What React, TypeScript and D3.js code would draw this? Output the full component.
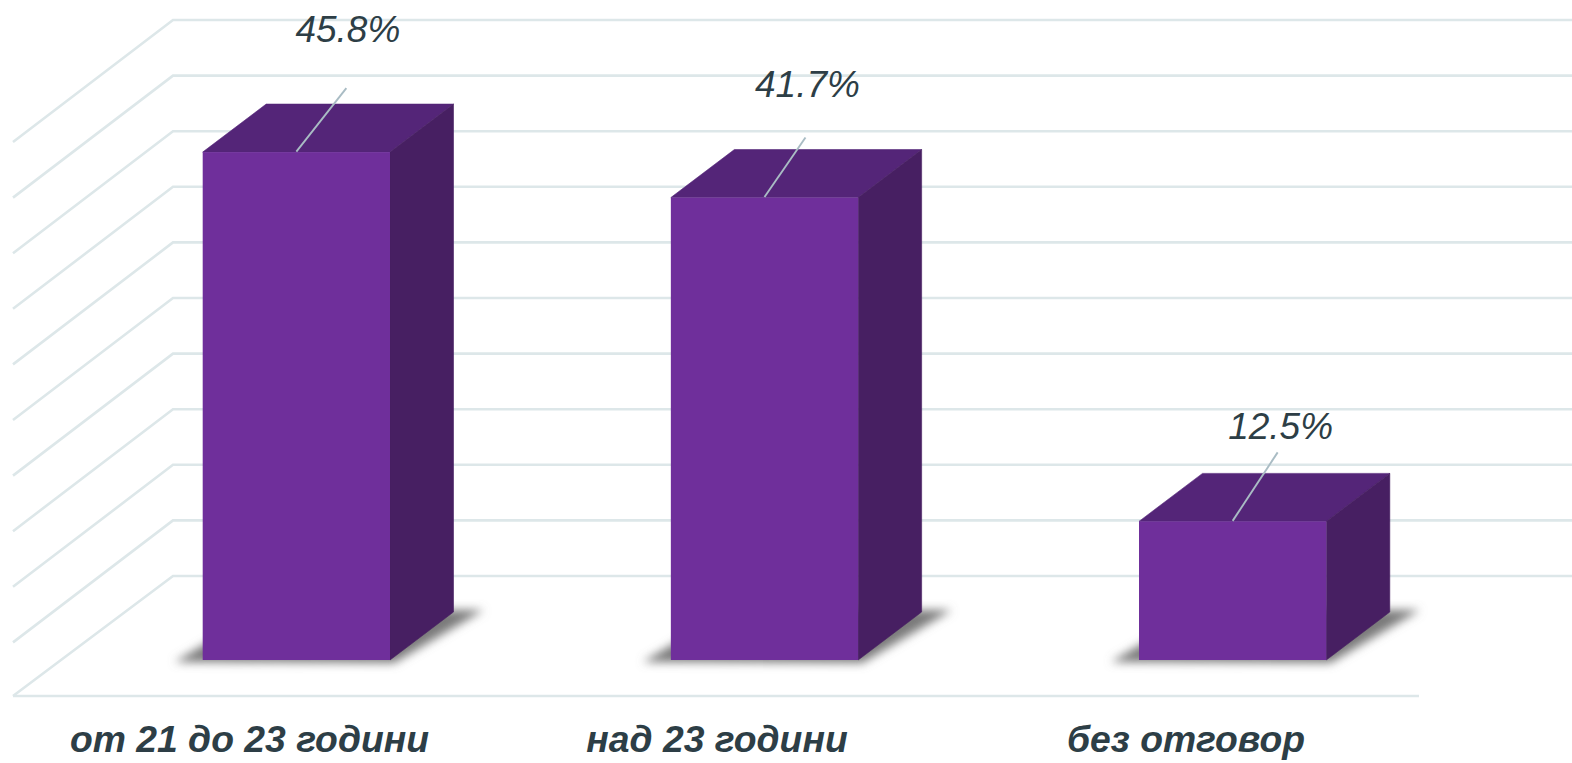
import React from "react";
import * as d3 from "d3";

const categories = ["от 21 до 23 години", "над 23 години", "без отговор"];
const values = [45.8, 41.7, 12.5];
const valueLabels = ["45.8%", "41.7%", "12.5%"];
const gridTicks = [0, 5, 10, 15, 20, 25, 30, 35, 40, 45, 50];

const W = 1572, H = 763;
const yFront = d3.scaleLinear().domain([0, 50]).range([660, 105.5]);
const yWall = d3.scaleLinear().domain([0, 50]).range([576, 20]);
const xBand = d3.scaleLinear().domain([0, 2]).range([202.7, 1139]);
const barW = 187.3, depthX = 63.5, depthY = 48;
const floorDX = 160, floorDY = 120;

const labelDX = [0.5, -8, -3];
const labelTop = [110.5, 100.5, 82];
const leaderEnd = [[50, 64], [41, 60], [45, 69]];
const catCenter = [249.5, 717, 1186];

export default function App() {
  const line = d3.line();
  return (
    <svg width={W} height={H} style={{ position: "absolute", left: 0, top: 0, background: "#fff" }}>
      <defs>
        <filter id="blur" x="-30%" y="-30%" width="160%" height="160%">
          <feGaussianBlur stdDeviation="5" />
        </filter>
      </defs>
      {gridTicks.map((t) => {
        const y = yWall(t);
        return (
          <path key={t} fill="none" stroke="#dde7e9" strokeWidth={2.6}
            d={line([[13, y + floorDY + (t === 0 ? 0 : 2)], [13 + floorDX, y], [W, y]])!} />
        );
      })}
      <path d={line([[13, yWall(0) + floorDY], [1419, yWall(0) + floorDY]])!} fill="none" stroke="#dde7e9" strokeWidth={2.6} />
      {values.map((v, i) => {
        const x = xBand(i);
        const top = yFront(v);
        const base = yFront(0);
        const [ex, ey] = leaderEnd[i];
        const mx = x + barW / 2;
        return (
          <g key={categories[i]}>
            <path d={line([[x - 28, base + 2], [x + barW + 4, base + 3], [x + barW + depthX + 30, base - depthY - 2], [x + 60, base - depthY - 2]])! + "Z"} fill="#7a7a7a" filter="url(#blur)" />
            <path d={line([[x, top], [x + depthX, top - depthY], [x + barW + depthX, top - depthY], [x + barW, top]])! + "Z"} fill="#542578" stroke="#542578" strokeWidth={0.6} />
            <path d={line([[x + barW, top], [x + barW + depthX, top - depthY], [x + barW + depthX, base - depthY], [x + barW, base]])! + "Z"} fill="#471f62" stroke="#471f62" strokeWidth={0.6} />
            <rect x={x} y={top} width={barW} height={base - top} fill="#6f2f9b" />
            <path d={line([[mx, top - 0.5], [mx + ex, top - ey]])!} fill="none" stroke="#a9bcc4" strokeWidth={1.9} />
            <text x={mx + labelDX[i] + 51} y={top - labelTop[i]} textAnchor="middle" fontFamily="Liberation Sans" fontStyle="italic" fontSize={37} fill="#2d3e46">{valueLabels[i]}</text>
            <text x={catCenter[i]} y={752} textAnchor="middle" fontFamily="Liberation Sans" fontStyle="italic" fontWeight="bold" fontSize={37.3} fill="#2d3e46">{categories[i]}</text>
          </g>
        );
      })}
    </svg>
  );
}
